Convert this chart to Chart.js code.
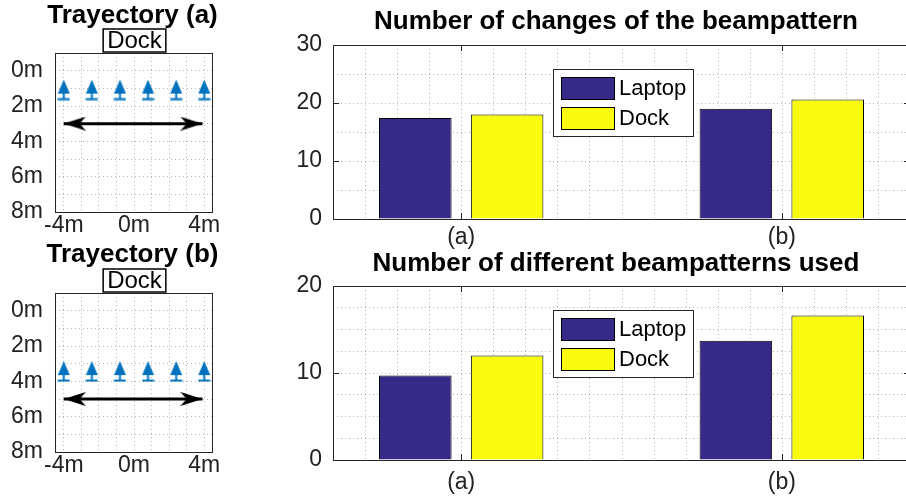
<!DOCTYPE html>
<html>
<head>
<meta charset="utf-8">
<script src="https://cdn.jsdelivr.net/npm/chart.js@4.4.1/dist/chart.umd.min.js"></script>
<style>
  html, body { margin: 0; padding: 0; background: #fff; overflow: hidden; width: 906px; height: 498px; }
  canvas { position: absolute; }
</style>
</head>
<body>
<canvas id="trajA" width="230" height="240" style="left:0;top:0"></canvas>
<canvas id="trajB" width="230" height="258" style="left:0;top:240px"></canvas>
<canvas id="changes" width="630" height="250" style="left:280px;top:0"></canvas>
<canvas id="patterns" width="630" height="248" style="left:280px;top:250px"></canvas>
<script>
// bar data
const categories = ["(a)", "(b)"];
const categoryPos = [1, 2];
const seriesNames = ["Laptop", "Dock"];
const changesLaptop = [17.4, 19.0];
const changesDock = [18.0, 20.6];
const patternsLaptop = [9.7, 13.7];
const patternsDock = [12.0, 16.6];
const changesTicks = [0, 10, 20, 30];
const patternsTicks = [0, 10, 20];

// trajectory data (metres)
const antennaX = [-4, -2.4, -0.8, 0.8, 2.4, 4];
const antennaYa = [1.1, 1.1, 1.1, 1.1, 1.1, 1.1];
const antennaYb = [3.45, 3.45, 3.45, 3.45, 3.45, 3.45];
const pathX = [-4, 3.9];
const pathYa = [3, 3];
const pathYb = [5, 5];
const gridX = [-4, -3, -2, -1, 0, 1, 2, 3, 4];
const distTicksX = [-4, 0, 4];
const distTicksY = [0, 2, 4, 6, 8];

const FONT = "'Liberation Sans', Arial, Helvetica, sans-serif";
const laptopColor = "#352A87";
const dockColor = "#F9FB0E";
const blue = "#0072BD";
const gridColor = "rgba(0,0,0,0.28)";

// antenna marker: triangle on a stem with a base bar
const antenna = document.createElement("canvas");
antenna.width = 13; antenna.height = 21;
(function () {
  const c = antenna.getContext("2d");
  c.fillStyle = blue;
  c.beginPath();
  c.moveTo(6.5, 0); c.lineTo(12.5, 14); c.lineTo(0.5, 14); c.closePath();
  c.fill();
  c.fillRect(5.5, 13, 2, 6);
  c.fillRect(0.5, 18.5, 12, 2);
})();

// arrow head, tip at the image centre, body on the left half
const arrowHead = document.createElement("canvas");
arrowHead.width = 44; arrowHead.height = 14;
(function () {
  const c = arrowHead.getContext("2d");
  c.fillStyle = "#000";
  c.beginPath();
  c.moveTo(22, 7); c.lineTo(0, 0); c.lineTo(6, 7); c.lineTo(0, 14); c.closePath();
  c.fill();
})();

const isOn = (v, list) => list.some(t => Math.abs(t - v) < 1e-6);

const panelTitle = {
  id: "panelTitle",
  afterDraw(chart, args, opts) {
    const { ctx } = chart;
    ctx.save();
    ctx.font = "bold " + opts.size + "px " + FONT;
    ctx.fillStyle = "#000";
    ctx.textAlign = "center";
    ctx.textBaseline = "middle";
    ctx.fillText(opts.text, opts.x, opts.y);
    if (opts.tag) {
      ctx.font = opts.tagSize + "px " + FONT;
      const w = ctx.measureText(opts.tag).width + 8;
      const bx = opts.tagX - w / 2;
      ctx.fillStyle = "#fff";
      ctx.fillRect(bx, opts.tagTop, w, opts.tagH);
      ctx.strokeStyle = "#000";
      ctx.lineWidth = 1.5;
      ctx.strokeRect(bx, opts.tagTop, w, opts.tagH);
      ctx.fillStyle = "#000";
      ctx.fillText(opts.tag, opts.tagX, opts.tagTop + opts.tagH / 2 + 1);
    }
    ctx.restore();
  }
};

// dotted vertical grid every opts.step along x
const minorGridX = {
  id: "minorGridX",
  beforeDatasetsDraw(chart, args, opts) {
    const { ctx, chartArea: a, scales: { x } } = chart;
    ctx.save();
    ctx.strokeStyle = gridColor;
    ctx.lineWidth = 1;
    ctx.setLineDash([1, 3]);
    ctx.beginPath();
    const n = Math.round((x.max - x.min) / opts.step);
    for (let k = 0; k <= n; k++) {
      const px = Math.round(x.getPixelForValue(x.min + k * opts.step)) + 0.5;
      ctx.moveTo(px, a.top);
      ctx.lineTo(px, a.bottom);
    }
    ctx.stroke();
    ctx.restore();
  }
};

// axes box with inward tick marks
const axesBox = {
  id: "axesBox",
  afterDraw(chart, args, opts) {
    const { ctx, chartArea: a, scales } = chart;
    ctx.save();
    ctx.strokeStyle = "#262626";
    ctx.lineWidth = 1;
    ctx.strokeRect(a.left + 0.5, a.top + 0.5, a.width - 1, a.height);
    const L = opts.len || 0;
    if (L) {
      ctx.beginPath();
      scales.x.ticks.forEach(t => {
        if (!opts.xMajor || !isOn(t.value, opts.xMajor)) return;
        const px = Math.round(scales.x.getPixelForValue(t.value)) + 0.5;
        ctx.moveTo(px, a.bottom); ctx.lineTo(px, a.bottom - L);
        ctx.moveTo(px, a.top); ctx.lineTo(px, a.top + L);
      });
      scales.y.ticks.forEach(t => {
        if (!opts.yMajor || !isOn(t.value, opts.yMajor)) return;
        const py = Math.round(scales.y.getPixelForValue(t.value)) + 0.5;
        ctx.moveTo(a.left, py); ctx.lineTo(a.left + L, py);
        ctx.moveTo(a.right, py); ctx.lineTo(a.right - L, py);
      });
      ctx.stroke();
    }
    ctx.restore();
  }
};

// boxed legend inside the plot area
const boxLegend = {
  id: "boxLegend",
  afterDraw(chart) {
    const { ctx, chartArea: a } = chart;
    const x = a.left + 220, y = a.top + 24, w = 140, h = 67;
    ctx.save();
    ctx.fillStyle = "#fff";
    ctx.fillRect(x, y, w, h);
    ctx.strokeStyle = "#262626";
    ctx.lineWidth = 1;
    ctx.strokeRect(x + 0.5, y + 0.5, w, h);
    ctx.font = "22px " + FONT;
    ctx.textBaseline = "middle";
    chart.data.datasets.forEach((ds, i) => {
      const sy = y + 8 + i * 30;
      ctx.fillStyle = ds.backgroundColor;
      ctx.fillRect(x + 8, sy, 53, 22);
      ctx.strokeStyle = "#000";
      ctx.strokeRect(x + 8.5, sy + 0.5, 53, 22);
      ctx.fillStyle = "#000";
      ctx.fillText(ds.label, x + 66, sy + 12);
    });
    ctx.restore();
  }
};

function barChart(id, laptop, dock, yMax, yStep, yTicks, title, titleY, padTop, xHeight, xPad) {
  const mk = vals => vals.map((v, i) => ({ x: categoryPos[i], y: v }));
  return new Chart(document.getElementById(id), {
    type: "bar",
    data: {
      datasets: [
        { label: seriesNames[0], data: mk(laptop), backgroundColor: laptopColor },
        { label: seriesNames[1], data: mk(dock), backgroundColor: dockColor }
      ]
    },
    options: {
      responsive: false,
      animation: false,
      devicePixelRatio: 1,
      layout: { padding: { top: padTop, left: 0, right: 0, bottom: 0 } },
      datasets: {
        bar: { borderColor: "#000", borderWidth: 1, categoryPercentage: 0.573, barPercentage: 0.79 }
      },
      scales: {
        x: {
          type: "linear", min: 0.6, max: 2.4, offset: false,
          grid: { display: false, drawTicks: false, offset: false },
          border: { display: false },
          afterBuildTicks: s => { s.ticks = categoryPos.map(v => ({ value: v })); },
          ticks: {
            autoSkip: false, maxRotation: 0, padding: xPad,
            color: "#222", font: { family: FONT, size: 23 },
            callback: v => {
              const i = categoryPos.findIndex(p => Math.abs(p - v) < 1e-6);
              return i >= 0 ? categories[i] : "";
            }
          },
          afterFit: s => { s.height = xHeight; }
        },
        y: {
          min: 0, max: yMax,
          grid: { color: gridColor, drawTicks: false },
          border: { display: false, dash: [1, 3] },
          ticks: {
            stepSize: yStep, autoSkip: false, padding: 11,
            color: "#222", font: { family: FONT, size: 23 },
            callback: v => isOn(v, yTicks) ? String(v) : ""
          },
          afterFit: s => { s.width = 53; }
        }
      },
      plugins: {
        legend: { display: false },
        tooltip: { enabled: false },
        panelTitle: { text: title, x: 336, y: titleY, size: 26 },
        minorGridX: { step: 0.1 },
        axesBox: { len: 6, xMajor: categoryPos, yMajor: yTicks }
      }
    },
    plugins: [minorGridX, panelTitle, axesBox, boxLegend]
  });
}

function trajChart(id, antennaY, pathY, title, titleY, xHeight, xPad) {
  return new Chart(document.getElementById(id), {
    type: "scatter",
    data: {
      datasets: [
        {
          data: antennaX.map((x, i) => ({ x, y: antennaY[i] })),
          pointStyle: antenna, pointRadius: 3
        },
        {
          data: pathX.map((x, i) => ({ x, y: pathY[i] })),
          showLine: true, borderColor: "#000", borderWidth: 3,
          pointStyle: arrowHead, pointRadius: 3, pointRotation: [180, 0]
        }
      ]
    },
    options: {
      responsive: false,
      animation: false,
      devicePixelRatio: 1,
      layout: { padding: { top: 53, left: 0, right: 17, bottom: 0 } },
      scales: {
        x: {
          type: "linear", min: -4.5, max: 4.5,
          grid: { color: gridColor, drawTicks: false },
          border: { display: false, dash: [1, 3] },
          afterBuildTicks: s => { s.ticks = gridX.map(v => ({ value: v })); },
          ticks: {
            autoSkip: false, maxRotation: 0, padding: xPad,
            color: "#222", font: { family: FONT, size: 23 },
            callback: v => isOn(v, distTicksX) ? v + "m" : ""
          },
          afterFit: s => { s.height = xHeight; }
        },
        y: {
          min: -1, max: 8, reverse: true,
          grid: { color: gridColor, drawTicks: false },
          border: { display: false, dash: [1, 3] },
          ticks: {
            stepSize: 1, autoSkip: false, padding: 12,
            color: "#222", font: { family: FONT, size: 23 },
            callback: v => isOn(v, distTicksY) ? v + "m" : ""
          },
          afterFit: s => { s.width = 55; }
        }
      },
      plugins: {
        legend: { display: false },
        tooltip: { enabled: false },
        panelTitle: { text: title, x: 132.5, y: titleY, size: 26, tag: "Dock", tagSize: 24, tagX: 134.5, tagTop: 29, tagH: 23 },
        axesBox: { len: 0 }
      }
    },
    plugins: [panelTitle, axesBox]
  });
}

trajChart("trajA", antennaYa, pathYa, "Trayectory (a)", 16, 28, 0);
trajChart("trajB", antennaYb, pathYb, "Trayectory (b)", 15, 46, 0);
barChart("changes", changesLaptop, changesDock, 30, 5, changesTicks,
  "Number of changes of the beampattern", 22, 45, 31, 5);
barChart("patterns", patternsLaptop, patternsDock, 20, 2.5, patternsTicks,
  "Number of different beampatterns used", 14, 36, 38, 9);
</script>
</body>
</html>
